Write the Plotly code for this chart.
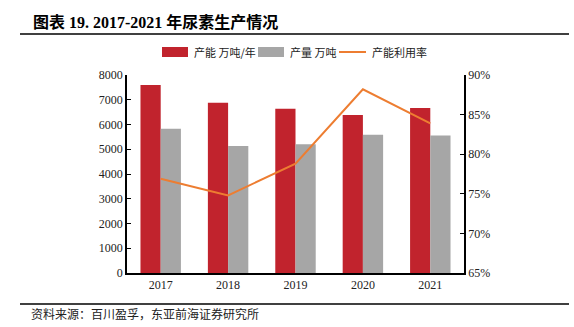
import plotly.graph_objects as go

years = ["2017", "2018", "2019", "2020", "2021"]
capacity = [7600, 6880, 6640, 6380, 6670]      # 产能 万吨/年
output = [5830, 5130, 5200, 5590, 5560]        # 产量 万吨
utilization = [76.9, 74.8, 78.8, 88.2, 83.9]   # 产能利用率 %

left_ticks = [0, 1000, 2000, 3000, 4000, 5000, 6000, 7000, 8000]
right_ticks = [65, 70, 75, 80, 85, 90]

RED = "#C1232D"
GRAY = "#A6A6A6"
ORANGE = "#ED7D31"

W, H = 574, 327
L, R, T, B = 127, 464, 75, 273

def px(x):
    return (x - L) / (R - L)

def py(y):
    return (B - y) / (B - T)

fig = go.Figure()
fig.add_trace(go.Bar(x=years, y=capacity, name="产能 万吨/年", marker=dict(color=RED, line=dict(width=0))))
fig.add_trace(go.Bar(x=years, y=output, name="产量 万吨", marker=dict(color=GRAY, line=dict(width=0))))
fig.add_trace(go.Scatter(x=years, y=utilization, name="产能利用率", mode="lines",
                         line=dict(color=ORANGE, width=2), yaxis="y2"))

tick_font = dict(family="Liberation Serif, Times New Roman, serif", size=12, color="#222")
cjk = "Noto Sans CJK SC, sans-serif"

fig.update_layout(
    width=W, height=H,
    margin=dict(l=L, r=W - R, t=T, b=H - B),
    paper_bgcolor="white", plot_bgcolor="white",
    showlegend=False,
    barmode="group", bargap=0.4, bargroupgap=0,
    xaxis=dict(showline=True, linecolor="black", linewidth=1.5, ticks="",
               tickfont=tick_font, showgrid=False, zeroline=False),
    yaxis=dict(range=[0, 8000], tickvals=left_ticks, showline=True, linecolor="black",
               linewidth=1.5, ticks="inside", ticklen=4, tickcolor="black",
               tickfont=tick_font, showgrid=False, zeroline=False),
    yaxis2=dict(range=[65, 90], tickvals=right_ticks, ticktext=[f"{v}%" for v in right_ticks],
                overlaying="y", side="right", showline=True, linecolor="black",
                linewidth=1.5, ticks="inside", ticklen=4, tickcolor="black",
                tickfont=tick_font, showgrid=False, zeroline=False),
)

shapes = [
    dict(type="line", xref="paper", yref="paper", x0=px(20), x1=px(569), y0=py(34), y1=py(34),
         line=dict(color="black", width=1.5)),
    dict(type="line", xref="paper", yref="paper", x0=px(20), x1=px(569), y0=py(304), y1=py(304),
         line=dict(color="black", width=1.5)),
    dict(type="rect", xref="paper", yref="paper", x0=px(162), x1=px(188), y0=py(57), y1=py(47),
         fillcolor=RED, line=dict(width=0)),
    dict(type="rect", xref="paper", yref="paper", x0=px(258), x1=px(284), y0=py(57), y1=py(47),
         fillcolor=GRAY, line=dict(width=0)),
    dict(type="line", xref="paper", yref="paper", x0=px(339), x1=px(366), y0=py(52), y1=py(52),
         line=dict(color=ORANGE, width=2)),
]
fig.update_layout(shapes=shapes)

annotations = [
    dict(text="<b>图表 19. 2017-2021 年尿素生产情况</b>", x=px(31), y=py(22), xanchor="left", yanchor="middle",
         font=dict(family="Liberation Serif, " + cjk, size=16, color="black")),
    dict(text="产能 万吨/年", x=px(192), y=py(52), xanchor="left", yanchor="middle",
         font=dict(family=cjk, size=11, color="#222")),
    dict(text="产量 万吨", x=px(288), y=py(52), xanchor="left", yanchor="middle",
         font=dict(family=cjk, size=11, color="#222")),
    dict(text="产能利用率", x=px(370), y=py(52), xanchor="left", yanchor="middle",
         font=dict(family=cjk, size=11, color="#222")),
    dict(text="资料来源：百川盈孚，东亚前海证券研究所", x=px(29), y=py(313), xanchor="left", yanchor="middle",
         font=dict(family=cjk, size=12, color="#222")),
]
for a in annotations:
    a.update(xref="paper", yref="paper", showarrow=False)
fig.update_layout(annotations=annotations)

fig.write_html("out.html")
